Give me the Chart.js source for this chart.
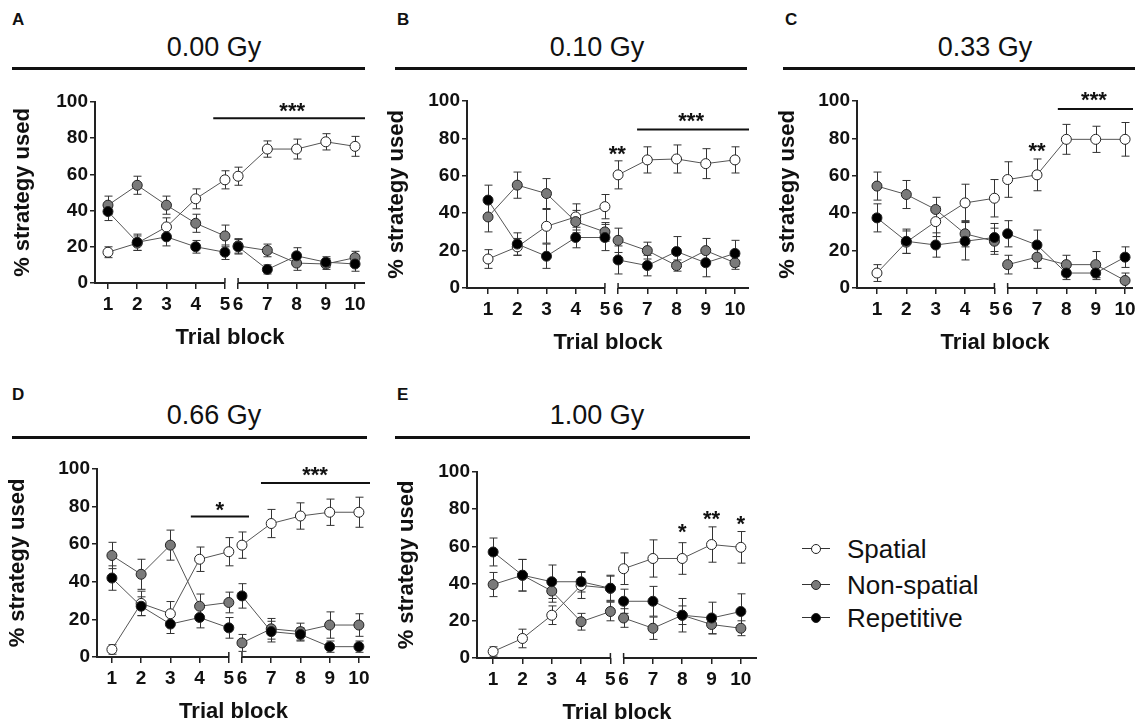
<!DOCTYPE html>
<html lang="en">
<head>
<meta charset="UTF-8">
<title>Strategy use by trial block</title>
<script src="https://cdn.jsdelivr.net/npm/chart.js@4.4.1/dist/chart.umd.min.js"></script>
<style>
  html, body { margin: 0; padding: 0; width: 1135px; height: 723px; overflow: hidden; background: #fff; }
  body { position: relative; font-family: 'Liberation Sans', Arial, sans-serif; color: #111; }
  .letter { position: absolute; font-weight: bold; font-size: 17px; line-height: 20px; }
  .dose { position: absolute; font-size: 27px; line-height: 27px; white-space: nowrap; transform: translateX(-50%); }
  .rule { position: absolute; height: 3px; background: #111; }
  .panel { position: absolute; }
  .key { position: absolute; width: 28px; height: 30px; }
  .key:before { content: ''; position: absolute; left: 0; right: 0; top: 14px; height: 1px; background: #333; }
  .key i { position: absolute; left: 9px; top: 10px; width: 8px; height: 8px; border: 1px solid #222; border-radius: 50%; }
  .ltext { position: absolute; font-size: 26px; line-height: 30px; white-space: nowrap; }
</style>
</head>
<body>
<script>
  // Categories
  const blocks = [1, 2, 3, 4, 5, 6, 7, 8, 9, 10];
  const blockLabels = ['1', '2', '3', '4', '5', '6', '7', '8', '9', '10'];
  const yTicks = [0, 20, 40, 60, 80, 100];
  const seriesNames = ['Spatial', 'Non-spatial', 'Repetitive'];
  const doses = ['0.00 Gy', '0.10 Gy', '0.33 Gy', '0.66 Gy', '1.00 Gy'];

  // A - 0.00 Gy
  const spatialA = [17, 22, 31, 46.5, 57, 59, 74, 74, 78, 75.5];
  const spatialErrA = [3, 4, 5, 5.5, 5, 5, 4.5, 5.5, 4.5, 5.5];
  const nonSpatialA = [43, 54, 43, 33, 26, 20.5, 18, 11, 10.5, 14];
  const nonSpatialErrA = [5, 5, 5, 5, 6, 4, 3.5, 4, 3, 3.5];
  const repetitiveA = [39.5, 22.5, 25.5, 20, 17, 20, 7.5, 15, 11.5, 10.5];
  const repetitiveErrA = [5, 4.5, 5, 3.5, 4, 4, 2.5, 4.5, 3, 4];

  // B - 0.10 Gy
  const spatialB = [15.5, 22, 33, 38, 43.5, 60.5, 68.5, 69, 66.5, 68.5];
  const spatialErrB = [5, 4.5, 9, 7, 6.5, 7.5, 7, 7.5, 8, 7];
  const nonSpatialB = [38, 55, 50.5, 35.5, 30, 25.5, 20, 12, 20, 13.5];
  const nonSpatialErrB = [8, 7, 8, 6, 5, 6.5, 4.5, 3, 6.5, 3.5];
  const repetitiveB = [47, 23.5, 17, 27, 27, 15, 12, 19.5, 13.5, 18.5];
  const repetitiveErrB = [8, 6, 6.5, 5.5, 7, 7.5, 5.5, 8, 7.5, 7];

  // C - 0.33 Gy
  const spatialC = [8, 24.5, 35.5, 45.5, 48, 58, 60.5, 79.5, 79.5, 79.5];
  const spatialErrC = [4.5, 6, 8, 10, 10, 9.5, 8.5, 8, 7, 9];
  const nonSpatialC = [54.5, 50, 42, 29, 25, 12.5, 16.5, 12.5, 12.5, 4];
  const nonSpatialErrC = [7.5, 7.5, 6.5, 7, 7, 5, 6, 5, 7, 4];
  const repetitiveC = [37.5, 25, 23, 25, 27, 29, 23, 8, 8, 16.5];
  const repetitiveErrC = [7.5, 6.5, 6.5, 10, 7.5, 7, 8, 3.5, 3.5, 5.5];

  // D - 0.66 Gy
  const spatialD = [4, 28.5, 23, 52, 56, 59.5, 71, 75, 77, 77];
  const spatialErrD = [2.5, 6.5, 6.5, 6.5, 7.5, 7, 7.5, 7, 7, 8];
  const nonSpatialD = [54, 44, 59.5, 27, 29, 7.5, 15, 13.5, 17, 17];
  const nonSpatialErrD = [7, 8, 8, 6.5, 5.5, 4.5, 5.5, 4.5, 7, 6];
  const repetitiveD = [42, 27, 17.5, 21, 15.5, 32.5, 13.5, 12, 5.5, 5.5];
  const repetitiveErrD = [6.5, 5, 5, 5.5, 5.5, 6.5, 5.5, 3.5, 3, 3];

  // E - 1.00 Gy
  const spatialE = [3.5, 10.5, 23, 39, 37.5, 48, 53.5, 53.5, 61, 59.5];
  const spatialErrE = [2.5, 5, 5, 7, 7, 8.5, 10, 8.5, 9.5, 8.5];
  const nonSpatialE = [39.5, 44.5, 36, 19.5, 25, 21.5, 16, 23, 18, 16];
  const nonSpatialErrE = [6.5, 8.5, 6, 4.5, 5, 5, 6, 5, 5, 4];
  const repetitiveE = [57, 44.5, 41, 41, 37.5, 30.5, 30.5, 23, 21.5, 25];
  const repetitiveErrE = [7.5, 8.5, 9, 5.5, 6.5, 6.5, 8, 9, 8.5, 9.5];

  // significance marks (x in block units, bar end null = axis end)
  const sigA = [{ bar: [4.6, null], y: 91 }, { text: '***', x: 7.85, y: 98 }];
  const sigB = [{ text: '**', x: 5.97, y: 74.6 }, { bar: [6.65, null], y: 84.7 }, { text: '***', x: 8.5, y: 92.4 }];
  const sigC = [{ text: '**', x: 7, y: 76.4 }, { bar: [7.71, null], y: 95.7 }, { text: '***', x: 8.94, y: 103.6 }];
  const sigD = [{ bar: [3.7, 6.24], y: 74.7 }, { text: '*', x: 4.69, y: 81 }, { bar: [6.65, null], y: 92.5 }, { text: '***', x: 8.5, y: 100 }];
  const sigE = [{ text: '*', x: 8, y: 70.9 }, { text: '**', x: 9, y: 77.7 }, { text: '*', x: 10, y: 75 }];

  // blocks 6-10 sit closer to block 5 (broken axis)
  const gapShift = 0.55;
  const pos = b => (b <= 5 ? b : b - gapShift);

  const FONT = "'Liberation Sans', Arial, sans-serif";
  const seriesStyle = [
    { fill: '#ffffff', order: 3 },
    { fill: '#7a7a7a', order: 2 },
    { fill: '#000000', order: 1 }
  ];

  const panels = [
    { letter: 'A', dose: doses[0], left: 95, top: 102, right: 365, bottom: 283, yW: 85, xmin: 0.556, xmax: 9.79,
      head: { lx: 12, ly: 20, tx: 214, ty: 47, ry: 68, r0: 12, r1: 365 },
      series: [spatialA, nonSpatialA, repetitiveA], errors: [spatialErrA, nonSpatialErrA, repetitiveErrA], sig: sigA },
    { letter: 'B', dose: doses[1], left: 467, top: 101, right: 749, bottom: 288, yW: 83, xmin: 0.28, xmax: 9.93,
      head: { lx: 397, ly: 20, tx: 597, ty: 47, ry: 68, r0: 395, r1: 747 },
      series: [spatialB, nonSpatialB, repetitiveB], errors: [spatialErrB, nonSpatialErrB, repetitiveErrB], sig: sigB },
    { letter: 'C', dose: doses[2], left: 857, top: 101, right: 1133, bottom: 288, yW: 82, xmin: 0.32, xmax: 9.72,
      head: { lx: 785, ly: 20, tx: 985, ty: 47, ry: 68, r0: 783, r1: 1135 },
      series: [spatialC, nonSpatialC, repetitiveC], errors: [spatialErrC, nonSpatialErrC, repetitiveErrC], sig: sigC },
    { letter: 'D', dose: doses[3], left: 97, top: 469, right: 370, bottom: 657, yW: 92, xmin: 0.49, xmax: 9.83,
      head: { lx: 12, ly: 395, tx: 214, ty: 415, ry: 437, r0: 12, r1: 367 },
      series: [spatialD, nonSpatialD, repetitiveD], errors: [spatialErrD, nonSpatialErrD, repetitiveErrD], sig: sigD },
    { letter: 'E', dose: doses[4], left: 477, top: 472, right: 757, bottom: 658, yW: 83, xmin: 0.45, xmax: 10.0,
      head: { lx: 397, ly: 395, tx: 597, ty: 415, ry: 437, r0: 395, r1: 750 },
      series: [spatialE, nonSpatialE, repetitiveE], errors: [spatialErrE, nonSpatialErrE, repetitiveErrE], sig: sigE }
  ];

  // error bars under the markers
  const errorBars = {
    id: 'errorBars',
    beforeDatasetsDraw(chart) {
      const { ctx, scales: { x, y } } = chart;
      ctx.save();
      ctx.strokeStyle = '#333';
      ctx.lineWidth = 1;
      chart.data.datasets.forEach(ds => {
        ds.data.forEach((p, i) => {
          const e = ds.errors[i];
          const px = Math.round(x.getPixelForValue(p.x)) + 0.5;
          const t = y.getPixelForValue(p.y + e);
          const b = y.getPixelForValue(p.y - e);
          ctx.beginPath();
          ctx.moveTo(px, t); ctx.lineTo(px, b);
          ctx.moveTo(px - 4, t); ctx.lineTo(px + 4, t);
          ctx.moveTo(px - 4, b); ctx.lineTo(px + 4, b);
          ctx.stroke();
        });
      });
      ctx.restore();
    }
  };

  // x axis drawn in two pieces with break stubs at 5 and 6
  const brokenAxis = {
    id: 'brokenAxis',
    beforeDatasetsDraw(chart) {
      const { ctx, chartArea: { left, right, bottom }, scales: { x } } = chart;
      const x5 = x.getPixelForValue(pos(5));
      const x6 = x.getPixelForValue(pos(6));
      ctx.save();
      ctx.strokeStyle = '#222';
      ctx.lineWidth = 2;
      ctx.beginPath();
      ctx.moveTo(left - 1, bottom); ctx.lineTo(x5, bottom);
      ctx.moveTo(x6, bottom); ctx.lineTo(right, bottom);
      ctx.stroke();
      ctx.lineWidth = 1.5;
      ctx.beginPath();
      ctx.moveTo(x5, bottom - 5); ctx.lineTo(x5, bottom);
      ctx.moveTo(x6, bottom - 5); ctx.lineTo(x6, bottom);
      ctx.stroke();
      ctx.restore();
    }
  };

  const sigMarks = {
    id: 'sigMarks',
    afterDatasetsDraw(chart, args, opts) {
      const { ctx, chartArea: { right }, scales: { x, y } } = chart;
      ctx.save();
      ctx.strokeStyle = '#111';
      ctx.fillStyle = '#111';
      ctx.lineWidth = 2;
      ctx.textAlign = 'center';
      ctx.textBaseline = 'alphabetic';
      const fs = 22;
      ctx.font = 'bold ' + fs + 'px ' + FONT;
      (opts.marks || []).forEach(m => {
        if (m.bar) {
          const py = y.getPixelForValue(m.y);
          const x0 = x.getPixelForValue(pos(m.bar[0]));
          const x1 = m.bar[1] == null ? right : x.getPixelForValue(pos(m.bar[1]));
          ctx.beginPath(); ctx.moveTo(x0, py); ctx.lineTo(x1, py); ctx.stroke();
        } else {
          const px = x.getPixelForValue(pos(m.x));
          const py = y.getPixelForValue(m.y);
          ctx.fillText(m.text, px, py + 0.57 * fs);
        }
      });
      ctx.restore();
    }
  };

  function addDiv(cls, css, text) {
    const d = document.createElement('div');
    d.className = cls;
    Object.assign(d.style, css);
    if (text != null) d.textContent = text;
    document.body.appendChild(d);
    return d;
  }

  const padTop = 30, padR = 22, xH = 70;

  panels.forEach(p => {
    const h = p.head;
    addDiv('letter', { left: h.lx + 'px', top: (h.ly - 10) + 'px' }, p.letter);
    addDiv('dose', { left: h.tx + 'px', top: (h.ty - 13.2) + 'px' }, p.dose);
    addDiv('rule', { left: h.r0 + 'px', top: (h.ry - 1.5) + 'px', width: (h.r1 - h.r0) + 'px' });

    const w = p.yW + (p.right - p.left) + padR;
    const hgt = padTop + (p.bottom - p.top) + xH;
    const box = addDiv('panel', { left: (p.left - p.yW) + 'px', top: (p.top - padTop) + 'px', width: w + 'px', height: hgt + 'px' });
    const canvas = document.createElement('canvas');
    box.appendChild(canvas);

    const datasets = p.series.map((vals, si) => ({
      label: seriesNames[si],
      data: blocks.map((b, i) => ({ x: pos(b), y: vals[i] })),
      errors: p.errors[si],
      order: seriesStyle[si].order,
      borderColor: '#555',
      borderWidth: 1,
      pointRadius: 5,
      pointBorderWidth: 1,
      pointBorderColor: '#222',
      pointBackgroundColor: seriesStyle[si].fill,
      clip: false,
      segment: { borderColor: ctx => (ctx.p0DataIndex === 4 ? 'rgba(0,0,0,0)' : '#555') }
    }));

    new Chart(canvas, {
      type: 'line',
      data: { datasets },
      plugins: [brokenAxis, errorBars, sigMarks],
      options: {
        responsive: true,
        maintainAspectRatio: false,
        animation: false,
        layout: { padding: { top: padTop, right: padR, left: 0, bottom: 0 } },
        plugins: {
          legend: { display: false },
          tooltip: { enabled: false },
          sigMarks: { marks: p.sig }
        },
        scales: {
          x: {
            type: 'linear',
            min: p.xmin,
            max: p.xmax,
            afterBuildTicks: s => { s.ticks = blocks.map(b => ({ value: pos(b) })); },
            afterFit: s => { s.height = xH; },
            border: { display: false },
            grid: { drawOnChartArea: false, drawTicks: true, tickLength: 6, color: '#222', lineWidth: 1.5 },
            ticks: {
              autoSkip: false, maxRotation: 0, padding: 4, color: '#111',
              font: { family: FONT, size: 19, weight: 'bold' },
              callback: (v, i) => blockLabels[i]
            },
            title: { display: true, text: 'Trial block', color: '#111', padding: { top: 0, bottom: 2 },
                     font: { family: FONT, size: 22, weight: 'bold' } }
          },
          y: {
            min: 0,
            max: 100,
            afterBuildTicks: s => { s.ticks = yTicks.map(v => ({ value: v })); },
            afterFit: s => { s.width = p.yW; },
            border: { display: true, color: '#222', width: 2 },
            grid: { drawOnChartArea: false, drawTicks: true, tickLength: 5, color: '#222', lineWidth: 1.5 },
            ticks: { padding: 2, color: '#111', font: { family: FONT, size: 19, weight: 'bold' } },
            title: { display: true, text: '% strategy used', color: '#111', padding: { top: 0, bottom: 0 },
                     font: { family: FONT, size: 22, weight: 'bold' } }
          }
        }
      }
    });
  });

  // legend
  const legendRows = [549, 585, 618];
  seriesNames.forEach((name, i) => {
    const k = addDiv('key', { left: '802px', top: (legendRows[i] - 15) + 'px' });
    const dot = document.createElement('i');
    dot.style.background = seriesStyle[i].fill;
    k.appendChild(dot);
    addDiv('ltext', { left: '847px', top: (legendRows[i] - 15) + 'px' }, name);
  });
</script>
</body>
</html>
